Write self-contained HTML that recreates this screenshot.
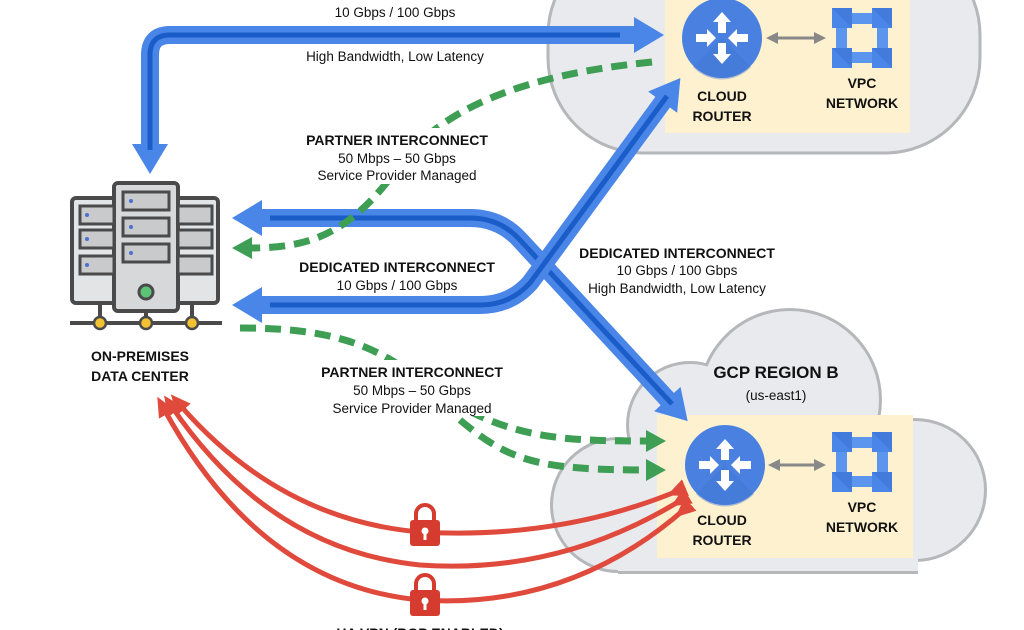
<!DOCTYPE html>
<html><head><meta charset="utf-8"><style>
html,body{margin:0;padding:0;background:#fff;width:1024px;height:630px;overflow:hidden}
svg{display:block}
text{font-family:"Liberation Sans Narrow","Liberation Sans",sans-serif;fill:#111;text-anchor:middle}
.b{font-weight:bold;font-size:14px}
.n{font-size:13.5px}
.h{font-weight:bold;font-size:17px}
</style></head><body>
<svg width="1024" height="630" viewBox="0 0 1024 630" xmlns="http://www.w3.org/2000/svg">
<defs>
<marker id="ab" markerWidth="32" markerHeight="36" refX="4" refY="18" orient="auto" markerUnits="userSpaceOnUse"><path d="M0,0 L30,18 L0,36 Z" fill="#4a86e8"/></marker>
<marker id="ag" markerWidth="22" markerHeight="24" refX="4" refY="12" orient="auto" markerUnits="userSpaceOnUse"><path d="M0,1 L20,12 L0,23 Z" fill="#3d9e54"/></marker>
<marker id="ar" markerWidth="22" markerHeight="22" refX="6" refY="11" orient="auto" markerUnits="userSpaceOnUse"><path d="M0,2 L20,11 L0,20 Z" fill="#e04a3c"/></marker>
</defs>

<!-- top cloud -->
<rect x="548" y="-60" width="432" height="213" rx="95" fill="#e8eaed" stroke="#b5b7ba" stroke-width="3"/>
<rect x="665" y="-2" width="245" height="135" fill="#fdf1cf"/>

<!-- bottom cloud -->
<g fill="#b5b7ba">
<circle cx="618" cy="505" r="68"/><circle cx="690" cy="425" r="64"/><circle cx="790" cy="400" r="92"/><circle cx="915" cy="490" r="72"/><rect x="618" y="440" width="300" height="134"/>
</g>
<g fill="#e8eaed">
<circle cx="618" cy="505" r="65"/><circle cx="690" cy="425" r="61"/><circle cx="790" cy="400" r="89"/><circle cx="915" cy="490" r="69"/><rect x="618" y="440" width="300" height="131"/>
</g>
<rect x="657" y="415" width="256" height="143" fill="#fdf1cf"/>

<!-- blue dedicated -->
<g fill="none">
<path d="M 640 35 H 170 Q 150 35 150 55 V 148" stroke="#4a86e8" stroke-width="18" marker-end="url(#ab)"/>
<path d="M 640 35 H 170 Q 150 35 150 55 V 150" stroke="#1a5cc8" stroke-width="5"/>
<path d="M 262 218 H 470 Q 500 218 520 240 L 670 402" stroke="#4a86e8" stroke-width="18" marker-end="url(#ab)"/>
<path d="M 262 218 H 470 Q 500 218 520 240 L 672 404" stroke="#1a5cc8" stroke-width="5"/>
<path d="M 262 305 H 480 Q 510 305 530 283 L 665 99" stroke="#4a86e8" stroke-width="18" marker-end="url(#ab)"/>
<path d="M 262 305 H 480 Q 510 305 530 283 L 667 96" stroke="#1a5cc8" stroke-width="5"/>
<path d="M 270 218 L 258 218" stroke="#4a86e8" stroke-width="18" marker-end="url(#ab)"/>
<path d="M 270 305 L 258 305" stroke="#4a86e8" stroke-width="18" marker-end="url(#ab)"/>
<path d="M 620 35 L 638 35" stroke="#4a86e8" stroke-width="18" marker-end="url(#ab)"/>
</g>

<!-- green partner -->
<g fill="none" stroke="#3d9e54" stroke-width="7" stroke-dasharray="16 9">
<path d="M 652 62 C 520 75 440 110 400 165 C 350 235 310 248 248 248" marker-end="url(#ag)"/>
<path d="M 240 328 C 320 328 370 340 420 380 C 500 440 560 441 650 441" marker-end="url(#ag)"/>
<path d="M 460 420 C 510 462 540 470 650 470" marker-end="url(#ag)"/>
</g>

<!-- red VPN -->
<g fill="none" stroke="#e04a3c" stroke-width="5">
<path d="M 680 490 Q 560 540 420 532 Q 280 520 180 405" marker-end="url(#ar)" marker-start="url(#ar)"/>
<path d="M 683 499 Q 560 575 420 565 Q 270 550 172 407" marker-end="url(#ar)" marker-start="url(#ar)"/>
<path d="M 686 508 Q 570 610 420 600 Q 260 585 164 409" marker-end="url(#ar)" marker-start="url(#ar)"/>
</g>
<g fill="#d63b2f">
<path d="M 416 521 v-7 a9 9 0 0 1 18 0 v7" fill="none" stroke="#d63b2f" stroke-width="4"/>
<rect x="410" y="520" width="30" height="26" rx="3"/>
<path d="M 416 591 v-7 a9 9 0 0 1 18 0 v7" fill="none" stroke="#d63b2f" stroke-width="4"/>
<rect x="410" y="590" width="30" height="26" rx="3"/>
</g>
<g fill="#fff"><circle cx="425" cy="531" r="3.5"/><rect x="423.5" y="532" width="3" height="8"/><circle cx="425" cy="601" r="3.5"/><rect x="423.5" y="602" width="3" height="8"/></g>

<!-- router icons -->
<g id="r1">
<circle cx="722" cy="38" r="40" fill="#4a80e0"/>
<path d="M 722 38 L 751 67 A 40 40 0 0 1 693 67 Z" fill="#3f72cf" opacity="0.4"/>
<g fill="#fff">
<path d="M718 33 V22 H713 L722 12 L731 22 H726 V33 Z"/>
<path d="M718 43 V54 H713 L722 64 L731 54 H726 V43 Z"/>
<path d="M696 34 H707 V29 L716 38 L707 47 V42 H696 Z"/>
<path d="M748 34 H737 V29 L728 38 L737 47 V42 H748 Z"/>
</g>
</g>
<use href="#r1" transform="translate(3,427)"/>

<!-- VPC icons -->
<g id="v1">
<g fill="#5b95ee">
<rect x="850" y="13" width="24" height="11"/><rect x="850" y="52" width="24" height="11"/>
<rect x="836" y="26" width="11" height="24"/><rect x="877" y="26" width="11" height="24"/>
</g>
<g fill="#4a86e8">
<rect x="832" y="8" width="20" height="20"/><rect x="872" y="8" width="20" height="20"/><rect x="832" y="48" width="20" height="20"/><rect x="872" y="48" width="20" height="20"/>
</g>
<path d="M852 28 L832 8 H852 Z M892 28 L872 8 H892Z M852 68 L832 48 H852 Z M892 68 L872 48 H892Z" fill="#3a6fd0" opacity="0.5"/>
</g>
<use href="#v1" transform="translate(0,424)"/>

<!-- gray bidirectional arrows -->
<g stroke="#888" stroke-width="3" fill="#888">
<line x1="775" y1="38" x2="818" y2="38"/><path d="M766 38 L778 32 V44Z M826 38 L814 32 V44Z" stroke="none"/>
<line x1="778" y1="465" x2="818" y2="465"/><path d="M768 465 L780 459 V471Z M826 465 L814 459 V471Z" stroke="none"/>
</g>

<!-- server -->
<g stroke="#4a4a4a" stroke-width="4">
<rect x="72" y="198" width="146" height="105" rx="4" fill="#e3e4e6"/>
<rect x="114" y="183" width="64" height="128" rx="4" fill="#d7d8da"/>
<rect x="80" y="206" width="34" height="18" fill="#c9cacc" stroke-width="3"/>
<rect x="80" y="230" width="34" height="18" fill="#c9cacc" stroke-width="3"/>
<rect x="80" y="256" width="34" height="18" fill="#c9cacc" stroke-width="3"/>
<rect x="178" y="206" width="34" height="18" fill="#c9cacc" stroke-width="3"/>
<rect x="178" y="230" width="34" height="18" fill="#c9cacc" stroke-width="3"/>
<rect x="178" y="256" width="34" height="18" fill="#c9cacc" stroke-width="3"/>
<rect x="123" y="192" width="46" height="18" fill="#c9cacc" stroke-width="3"/>
<rect x="123" y="218" width="46" height="18" fill="#c9cacc" stroke-width="3"/>
<rect x="123" y="244" width="46" height="18" fill="#c9cacc" stroke-width="3"/>
<circle cx="146" cy="292" r="7" fill="#5cc476" stroke-width="3"/>
<line x1="100" y1="303" x2="100" y2="323"/><line x1="146" y1="311" x2="146" y2="323"/><line x1="192" y1="303" x2="192" y2="323"/>
<line x1="70" y1="323" x2="222" y2="323"/>
<circle cx="100" cy="323" r="6" fill="#f2c233" stroke-width="2.5"/><circle cx="146" cy="323" r="6" fill="#f2c233" stroke-width="2.5"/><circle cx="192" cy="323" r="6" fill="#f2c233" stroke-width="2.5"/>
</g>
<g fill="#4a6fd0"><circle cx="87" cy="215" r="2"/><circle cx="87" cy="239" r="2"/><circle cx="87" cy="265" r="2"/><circle cx="131" cy="201" r="2"/><circle cx="131" cy="227" r="2"/><circle cx="131" cy="253" r="2"/></g>

<!-- labels -->
<text class="b" x="395" y="-2">DEDICATED INTERCONNECT</text>
<text class="n" x="395" y="17">10 Gbps / 100 Gbps</text>
<text class="n" x="395" y="61">High Bandwidth, Low Latency</text>
<rect x="305" y="128" width="185" height="56" fill="#fff"/>
<text class="b" x="397" y="145">PARTNER INTERCONNECT</text>
<text class="n" x="397" y="163">50 Mbps – 50 Gbps</text>
<text class="n" x="397" y="180">Service Provider Managed</text>
<text class="b" x="397" y="272">DEDICATED INTERCONNECT</text>
<text class="n" x="397" y="290">10 Gbps / 100 Gbps</text>
<text class="b" x="677" y="258">DEDICATED INTERCONNECT</text>
<text class="n" x="677" y="275">10 Gbps / 100 Gbps</text>
<text class="n" x="677" y="293">High Bandwidth, Low Latency</text>
<rect x="322" y="360" width="182" height="56" fill="#fff"/>
<text class="b" x="412" y="377">PARTNER INTERCONNECT</text>
<text class="n" x="412" y="395">50 Mbps – 50 Gbps</text>
<text class="n" x="412" y="413">Service Provider Managed</text>
<text class="b" x="140" y="361">ON-PREMISES</text>
<text class="b" x="140" y="381">DATA CENTER</text>
<text class="b" x="722" y="101">CLOUD</text>
<text class="b" x="722" y="121">ROUTER</text>
<text class="b" x="862" y="88">VPC</text>
<text class="b" x="862" y="108">NETWORK</text>
<text class="h" x="776" y="378">GCP REGION B</text>
<text class="n" x="776" y="400">(us-east1)</text>
<text class="b" x="722" y="525">CLOUD</text>
<text class="b" x="722" y="545">ROUTER</text>
<text class="b" x="862" y="512">VPC</text>
<text class="b" x="862" y="532">NETWORK</text>
<text class="b" x="420" y="638">HA VPN (BGP ENABLED)</text>
</svg>
</body></html>
